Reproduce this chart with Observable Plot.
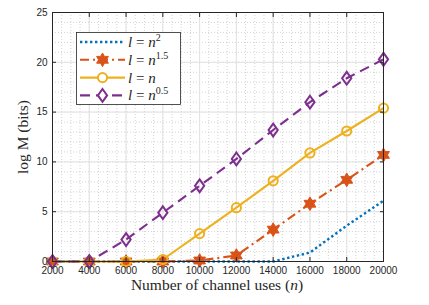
<!DOCTYPE html>
<html>
<head>
<meta charset="utf-8">
<script src="https://cdn.jsdelivr.net/npm/d3@7"></script>
<script src="https://cdn.jsdelivr.net/npm/@observablehq/plot@0.6"></script>
<style>
  html, body { margin: 0; padding: 0; background: #fff; }
  #wrap { position: relative; width: 429px; height: 305px; overflow: hidden; }
  #wrap svg.overlay { position: absolute; left: 0; top: 0; pointer-events: none; }
</style>
</head>
<body>
<div id="wrap"></div>
<script>
// ---------- data ----------
const channelUses = [2000, 4000, 6000, 8000, 10000, 12000, 14000, 16000, 18000, 20000];
const seriesLabels = ["n^2", "n^1.5", "n", "n^0.5"];
const valuesN2   = [0, 0, 0, 0, 0, 0, 0, 0.9, 3.6, 6.1];
const valuesN15  = [0, 0, 0, 0, 0.1, 0.6, 3.2, 5.8, 8.2, 10.7];
const valuesN1   = [0, 0, 0, 0.2, 2.8, 5.4, 8.1, 10.9, 13.1, 15.4];
const valuesN05  = [0, 0, 2.2, 4.9, 7.6, 10.3, 13.2, 16.0, 18.4, 20.3];
const xTicks = [2000, 4000, 6000, 8000, 10000, 12000, 14000, 16000, 18000, 20000];
const yTicks = [0, 5, 10, 15, 20, 25];
const xMinor = d3.range(2000, 20001, 500);
const yMinor = d3.range(0, 25.01, 1);

// ---------- styles ----------
const seriesValues = [valuesN2, valuesN15, valuesN1, valuesN05];
const colors = ["#0072BD", "#D95319", "#EDB120", "#7E2F8E"];
const dashes = ["2.4,2.6", "9,4,2,4", null, "10,6"];
const widths = [2.4, 2.1, 2.1, 2.1];
const markers = [null, "hexagram", "circle", "diamond"];

// custom symbols (MATLAB-like)
const hexagram = {
  draw(ctx, size) {
    const R = Math.sqrt(size / Math.PI) * 1.0;
    const r = R / Math.sqrt(3);
    for (let i = 0; i < 12; i++) {
      const a = -Math.PI / 2 + i * Math.PI / 6;
      const rr = i % 2 ? r : R;
      const px = rr * Math.cos(a), py = rr * Math.sin(a);
      if (i === 0) ctx.moveTo(px, py); else ctx.lineTo(px, py);
    }
    ctx.closePath();
  }
};
const diamondM = {
  draw(ctx, size) {
    const h = Math.sqrt(size / Math.PI) * 1.0;
    const w = h * 0.72;
    ctx.moveTo(0, -h); ctx.lineTo(w, 0); ctx.lineTo(0, h); ctx.lineTo(-w, 0); ctx.closePath();
  }
};
const symbolFor = {hexagram: hexagram, diamond: diamondM, circle: "circle"};

const rows = [];
seriesValues.forEach((vals, s) => vals.forEach((v, i) => rows.push({series: s, x: channelUses[i], y: v})));

const marks = [
  Plot.gridX(xMinor, {stroke: "#c8c8c8", strokeOpacity: 1, strokeWidth: 0.8, strokeDasharray: "1,2"}),
  Plot.gridY(yMinor, {stroke: "#c8c8c8", strokeOpacity: 1, strokeWidth: 0.8, strokeDasharray: "1,2"}),
  Plot.gridX(xTicks, {stroke: "#e2e2e2", strokeOpacity: 1, strokeWidth: 1}),
  Plot.gridY(yTicks, {stroke: "#e2e2e2", strokeOpacity: 1, strokeWidth: 1}),
];
seriesValues.forEach((vals, s) => {
  const d = rows.filter(r => r.series === s);
  marks.push(Plot.line(d, {x: "x", y: "y", stroke: colors[s], strokeWidth: widths[s],
    strokeDasharray: dashes[s], strokeLinecap: "butt", strokeLinejoin: "round"}));
});
seriesValues.forEach((vals, s) => {
  if (!markers[s]) return;
  const d = rows.filter(r => r.series === s);
  const filled = markers[s] === "hexagram";
  marks.push(Plot.dot(d, {x: "x", y: "y", symbol: symbolFor[markers[s]],
    r: markers[s] === "circle" ? 4.6 : (markers[s] === "hexagram" ? 6.8 : 6.4),
    stroke: colors[s], strokeWidth: filled ? 1 : 2,
    fill: filled ? colors[s] : "none"}));
});
marks.push(
  Plot.frame({stroke: "#262626", strokeWidth: 1}),
  Plot.axisX(xTicks, {tickSize: 0, tickPadding: 5, tickFormat: d => String(d), label: null, fill: "#262626"}),
  Plot.axisY(yTicks, {tickSize: 0, tickPadding: 5, tickFormat: d => String(d), label: null, fill: "#262626"}),
  Plot.axisX(xTicks, {anchor: "bottom", tickSize: 4, dy: -4, tickFormat: () => "", label: null, stroke: "#262626"}),
  Plot.axisX(xTicks, {anchor: "top", tickSize: 4, dy: 4, tickFormat: () => "", label: null, stroke: "#262626"}),
  Plot.axisY(yTicks, {anchor: "left", tickSize: 4, dx: 4, tickFormat: () => "", label: null, stroke: "#262626"}),
  Plot.axisY(yTicks, {anchor: "right", tickSize: 4, dx: -4, tickFormat: () => "", label: null, stroke: "#262626"})
);

const chart = Plot.plot({
  width: 429, height: 305,
  marginLeft: 52, marginRight: 46, marginTop: 12, marginBottom: 44,
  x: {domain: [2000, 20000]},
  y: {domain: [0, 25]},
  style: {fontFamily: "'Liberation Sans', Arial, sans-serif", fontSize: "10px", color: "#262626", background: "white"},
  marks
});
const wrap = document.getElementById("wrap");
wrap.appendChild(chart);

// ---------- overlay: axis titles and legend ----------
const ov = d3.select(wrap).append("svg").attr("class", "overlay")
  .attr("width", 429).attr("height", 305);
const serif = "'Liberation Serif', 'DejaVu Serif', serif";

const xl = ov.append("text").attr("x", 217).attr("y", 290).attr("text-anchor", "middle")
  .attr("font-family", serif).attr("font-size", 15.5).attr("fill", "#262626");
xl.append("tspan").text("Number of channel uses (");
xl.append("tspan").attr("font-style", "italic").text("n");
xl.append("tspan").text(")");

ov.append("text").attr("transform", "translate(28,137) rotate(-90)").attr("text-anchor", "middle")
  .attr("font-family", serif).attr("font-size", 15.5).attr("fill", "#262626").text("log M (bits)");

const lg = ov.append("g");
lg.append("rect").attr("x", 76.5).attr("y", 32.5).attr("width", 104).attr("height", 72)
  .attr("fill", "white").attr("stroke", "#262626").attr("stroke-width", 0.8);
seriesLabels.forEach((lab, s) => {
  const y = 42 + s * 17.8;
  lg.append("line").attr("x1", 80).attr("x2", 125).attr("y1", y).attr("y2", y)
    .attr("stroke", colors[s]).attr("stroke-width", widths[s])
    .attr("stroke-dasharray", dashes[s]);
  if (markers[s]) {
    const filled = markers[s] === "hexagram";
    const sym = markers[s] === "circle" ? d3.symbolCircle : symbolFor[markers[s]];
    const rr = markers[s] === "circle" ? 4.6 : (markers[s] === "hexagram" ? 6.8 : 6.4);
    lg.append("path").attr("transform", `translate(102.5,${y})`)
      .attr("d", d3.symbol(sym, Math.PI * rr * rr)())
      .attr("fill", filled ? colors[s] : "white").attr("stroke", colors[s])
      .attr("stroke-width", filled ? 1 : 2);
  }
  const parts = lab.split("^");
  const t = lg.append("text").attr("x", 128).attr("y", y + 5)
    .attr("font-family", serif).attr("font-size", 15).attr("fill", "#262626");
  t.append("tspan").attr("font-style", "italic").text("l");
  t.append("tspan").text(" = ");
  t.append("tspan").attr("font-style", "italic").text(parts[0]);
  if (parts[1]) t.append("tspan").attr("font-size", 10).attr("dy", -6).text(parts[1]);
});
</script>
</body>
</html>
